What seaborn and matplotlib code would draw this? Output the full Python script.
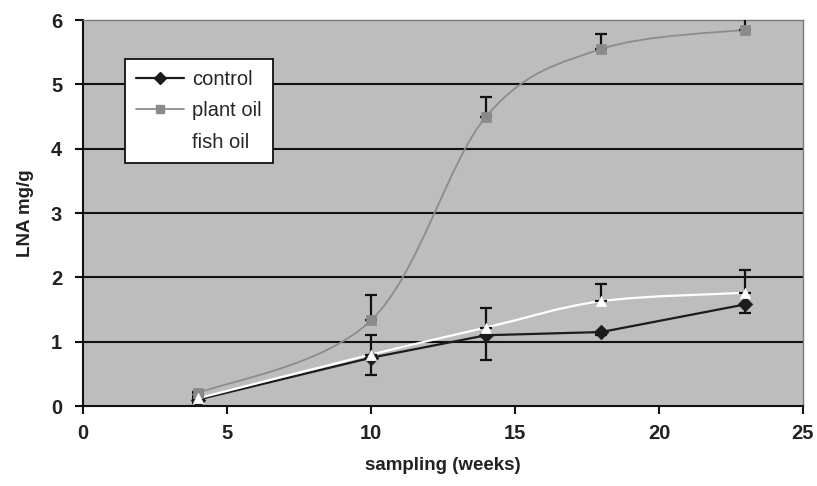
import numpy as np
import matplotlib
matplotlib.use("Agg")
import matplotlib.pyplot as plt
from matplotlib.path import Path
from matplotlib.patches import PathPatch
from matplotlib.lines import Line2D
import seaborn as sns

weeks = [4, 10, 14, 18, 23]
control = [0.10, 0.75, 1.10, 1.15, 1.58]
control_err = [0.05, 0.27, 0.38, 0.05, 0.13]
plant_oil = [0.20, 1.33, 4.50, 5.55, 5.85]
plant_err = [0.02, 0.40, 0.30, 0.23, 0.22]
fish_oil = [0.12, 0.80, 1.22, 1.63, 1.76]
fish_err = [0.03, 0.30, 0.30, 0.27, 0.35]
series_names = ["control", "plant oil", "fish oil"]
x_ticks = [0, 5, 10, 15, 20, 25]
y_ticks = [0, 1, 2, 3, 4, 5, 6]

sns.set_theme(style="white")
plt.rcParams['font.family'] = ['Liberation Sans', 'DejaVu Sans']

fig = plt.figure(figsize=(8.17, 4.86), dpi=100)
ax = fig.add_axes([0.1016, 0.1646, 0.8812, 0.7942])
ax.set_facecolor("#bdbdbd")


def smooth_path(xs, ys):
    pts = np.column_stack([xs, ys]).astype(float)
    n = len(pts)
    verts = [pts[0]]
    codes = [Path.MOVETO]
    for i in range(n - 1):
        p0 = pts[max(i - 1, 0)]
        p1 = pts[i]
        p2 = pts[i + 1]
        p3 = pts[min(i + 2, n - 1)]
        c1 = p1 + (p2 - p0) / 6.0
        c2 = p2 - (p3 - p1) / 6.0
        verts += [c1, c2, p2]
        codes += [Path.CURVE4] * 3
    return Path(verts, codes)


styles = [
    (control, control_err, "#1c1c1c", "D", "#1c1c1c", 1.6, "lower", False),
    (plant_oil, plant_err, "#8c8c8c", "s", "#8a8a8a", 1.3, "upper", True),
    (fish_oil, fish_err, "#ffffff", "^", "#ffffff", 1.6, "upper", True),
]

handles = []
for name, (vals, errs, lc, mk, mc, lw, side, smooth) in zip(series_names, styles):
    if smooth:
        ax.add_patch(PathPatch(smooth_path(weeks, vals), facecolor="none",
                               edgecolor=lc, lw=lw, zorder=3))
    else:
        sns.lineplot(x=weeks, y=vals, color=lc, lw=lw, ax=ax, zorder=3,
                     legend=False)
    if side == "lower":
        yerr = [errs, [0] * len(errs)]
    else:
        yerr = [[0] * len(errs), errs]
    ax.errorbar(weeks, vals, yerr=yerr, fmt="none", ecolor="#111111",
                elinewidth=1.6, capsize=4.5, capthick=1.6, zorder=4)
    sns.scatterplot(x=weeks, y=vals, marker=mk, color=mc, s=55,
                    edgecolor=mc, linewidth=0.5, ax=ax, zorder=5, legend=False)
    handles.append(Line2D([0], [0], color=lc, lw=lw, marker=mk,
                          markerfacecolor=mc, markeredgecolor=mc,
                          markersize=6, label=name))

ax.set_xlim(0, 25)
ax.set_ylim(0, 6)
ax.set_xticks(x_ticks)
ax.set_yticks(y_ticks)
for y in y_ticks[1:-1]:
    ax.axhline(y, color="#111111", lw=1.5, zorder=1)

for side in ["top", "right"]:
    ax.spines[side].set_color("#7a7a7a")
    ax.spines[side].set_linewidth(1.0)
for side in ["left", "bottom"]:
    ax.spines[side].set_color("#111111")
    ax.spines[side].set_linewidth(1.5)

ax.tick_params(axis="both", direction="out", length=6, width=1.5,
               color="#111111", labelsize=14.5, pad=4,
               bottom=True, left=True)
for lab in ax.get_xticklabels() + ax.get_yticklabels():
    lab.set_fontweight("bold")
    lab.set_color("#222222")
ax.tick_params(axis="x", pad=7)
ax.tick_params(axis="y", pad=9)

ax.set_xlabel("sampling (weeks)", fontsize=13.5, fontweight="bold",
              color="#222222", labelpad=10)
ax.set_ylabel("LNA mg/g", fontsize=13.5, fontweight="bold",
              color="#222222", labelpad=12)

leg = ax.legend(handles=handles, loc="upper left",
                bbox_to_anchor=(0.058, 0.9), frameon=True, fancybox=False,
                fontsize=14.5, handlelength=2.4, borderpad=0.55,
                labelspacing=0.62, handletextpad=0.4, borderaxespad=0)
leg.get_frame().set_facecolor("#ffffff")
leg.get_frame().set_edgecolor("#111111")
leg.get_frame().set_linewidth(1.3)
leg.get_frame().set_alpha(1)
leg.set_zorder(10)

fig.savefig("out.png", dpi=100, facecolor="white")
